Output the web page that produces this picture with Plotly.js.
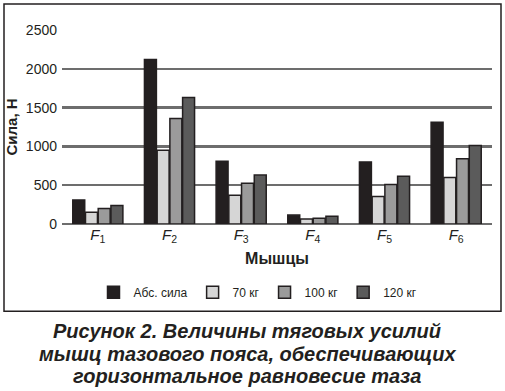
<!DOCTYPE html>
<html>
<head>
<meta charset="utf-8">
<script src="https://cdn.plot.ly/plotly-3.0.1.min.js"></script>
<style>html,body{margin:0;padding:0;background:#fff;}#chart{width:505px;height:391px;}</style>
</head>
<body>
<div id="chart"></div>
<script>
// Data
const categories = ['<i>F</i><sub>1</sub>', '<i>F</i><sub>2</sub>', '<i>F</i><sub>3</sub>', '<i>F</i><sub>4</sub>', '<i>F</i><sub>5</sub>', '<i>F</i><sub>6</sub>'];
const seriesNames = ['Абс. сила', '70 кг', '100 кг', '120 кг'];
const absForce = [310, 2120, 810, 115, 800, 1310];
const kg70 = [150, 950, 370, 65, 355, 600];
const kg100 = [200, 1360, 525, 75, 510, 840];
const kg120 = [240, 1630, 630, 100, 615, 1010];
const yTicks = [0, 500, 1000, 1500, 2000, 2500];
const captionLines = ['Рисунок 2. Величины тяговых усилий', 'мышц тазового пояса, обеспечивающих', 'горизонтальное равновесие таза'];

const colors = ['#231f20', '#d6d6d6', '#9b9b9b', '#5b5b5b'];
const seriesValues = [absForce, kg70, kg100, kg120];

const traces = seriesValues.map((vals, i) => ({
  type: 'bar',
  name: seriesNames[i],
  x: categories,
  y: vals,
  marker: {color: colors[i], line: {color: '#231f20', width: 1.5}},
  hoverinfo: 'skip'
}));

// pixel helpers for layout decorations (plot area: x 62..492, y 30..224.5)
const L = 62, R = 13, T = 30, B = 391 - 224.5;
const pw = 505 - L - R, ph = 391 - T - B;
const px = v => (v - L) / pw;
const py = v => (391 - B - v) / ph;

const captionY = [332, 355, 377];
const annotations = captionLines.map((t, i) => ({
  xref: 'paper', yref: 'paper', x: px(247), y: py(captionY[i]), xanchor: 'center', yanchor: 'middle',
  showarrow: false, align: 'center',
  text: '<b><i>' + t + '</i></b>',
  font: {size: 20, color: '#231f20', family: 'Liberation Sans, Arial, sans-serif'}
}));

const layout = {
  width: 505, height: 391,
  margin: {l: L, r: R, t: T, b: B, pad: 0},
  paper_bgcolor: '#ffffff',
  plot_bgcolor: '#ffffff',
  font: {family: 'Liberation Sans, Arial, sans-serif', color: '#231f20', size: 14},
  barmode: 'group',
  bargap: 0.29,
  bargroupgap: 0.06,
  showlegend: true,
  legend: {
    orientation: 'h', x: px(258), xanchor: 'center', y: py(293), yanchor: 'middle',
    font: {size: 12, color: '#231f20'}, itemwidth: 30, traceorder: 'normal',
    bgcolor: 'rgba(0,0,0,0)'
  },
  xaxis: {
    showgrid: false, zeroline: false, showline: false, ticks: '',
    tickfont: {size: 15, color: '#231f20'},
    title: {text: '<b>Мышцы</b>', font: {size: 16, color: '#231f20'}, standoff: 8},
    fixedrange: true
  },
  yaxis: {
    range: [0, 2500], tickvals: yTicks, ticktext: yTicks.map(String),
    showgrid: true, gridcolor: '#6d6d6d', gridwidth: 2.5,
    zeroline: true, zerolinecolor: '#6d6d6d', zerolinewidth: 2.5,
    showline: false, ticks: '', ticklabelstandoff: 4,
    tickfont: {size: 14, color: '#231f20'},
    title: {text: '<b>Сила, Н</b>', font: {size: 15, color: '#231f20'}, standoff: 4},
    fixedrange: true
  },
  shapes: [{
    type: 'rect', xref: 'paper', yref: 'paper', layer: 'below',
    x0: px(4), x1: px(501), y0: py(312), y1: py(4),
    line: {color: '#231f20', width: 1.5}, fillcolor: 'rgba(0,0,0,0)'
  }],
  annotations: annotations
};

Plotly.newPlot('chart', traces, layout, {displayModeBar: false, staticPlot: true});
</script>
</body>
</html>
